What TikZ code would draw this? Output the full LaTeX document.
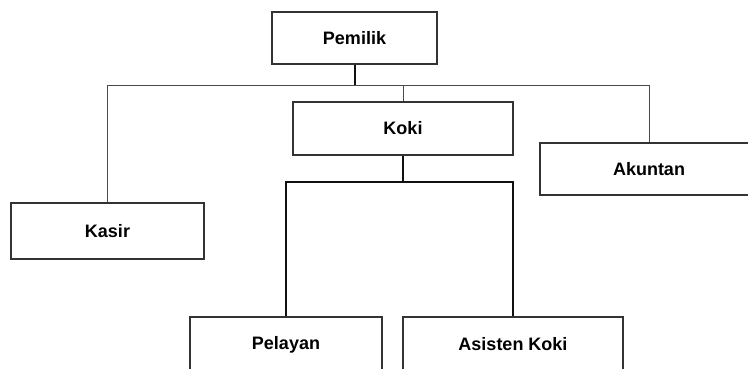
\documentclass[tikz,border=0pt]{standalone}
\usepackage{fontspec}
\setmainfont{Liberation Sans}
\usepackage{tikz}
\usepackage{xcolor}
\usetikzlibrary{
    positioning,
    calc
}
\definecolor{boxline}{HTML}{333333}
\definecolor{thinline}{HTML}{4A4A4A}
\definecolor{thickline}{HTML}{111111}
\tikzset{
    % Organisation box style
    unit/.style={
        rectangle,
        minimum width=#1,
        minimum height=53pt,
        align=center,
        font=\fontsize{18}{20}\selectfont\bfseries,
        draw=boxline,
        fill=white,
        line width=1.2pt
    },
    % Connector styles
    link/.style={
        line width=1pt,
        color=thinline
    },
    boldlink/.style={
        line width=2pt,
        color=thickline
    }
}

\begin{document}
\begin{tikzpicture}[x=1pt, y=-1pt]
        % Page frame
        \clip (0,0) rectangle (748,369);
        \fill[white] (0,0) rectangle (748,369);

        % Boxes
        \node[unit=165pt, minimum height=52pt] (pemilik) at (354.5,38) {Pemilik};
        \node[unit=220pt] (koki) at (403,128.5) {Koki};
        \node[unit=193pt, minimum height=56pt] (kasir) at (107.5,231) {Kasir};
        \node[unit=218pt, minimum height=52pt] (akuntan) at (649,169) {Akuntan};
        \node[unit=192pt, minimum height=55pt] (pelayan) at (286,344.5) {Pelayan};
        \node[unit=220pt, minimum height=55pt] (asisten) at (513,344.5) {Asisten Koki};

        % Branch levels
        \coordinate (bar) at (0,86);
        \coordinate (split) at (0,182);

        % Top level connectors
        \draw[boldlink] (pemilik.south) -- (pemilik.south |- bar);
        \draw[link] (kasir.north) -- (kasir.north |- bar) -- (akuntan.north |- bar) -- (akuntan.north);
        \draw[link] (koki.north) -- (koki.north |- bar);

        % Koki connectors
        \draw[boldlink] (koki.south) -- (koki.south |- split);
        \draw[boldlink] (pelayan.north) -- (pelayan.north |- split) -- (asisten.north |- split) -- (asisten.north);
    \end{tikzpicture}
\end{document}
